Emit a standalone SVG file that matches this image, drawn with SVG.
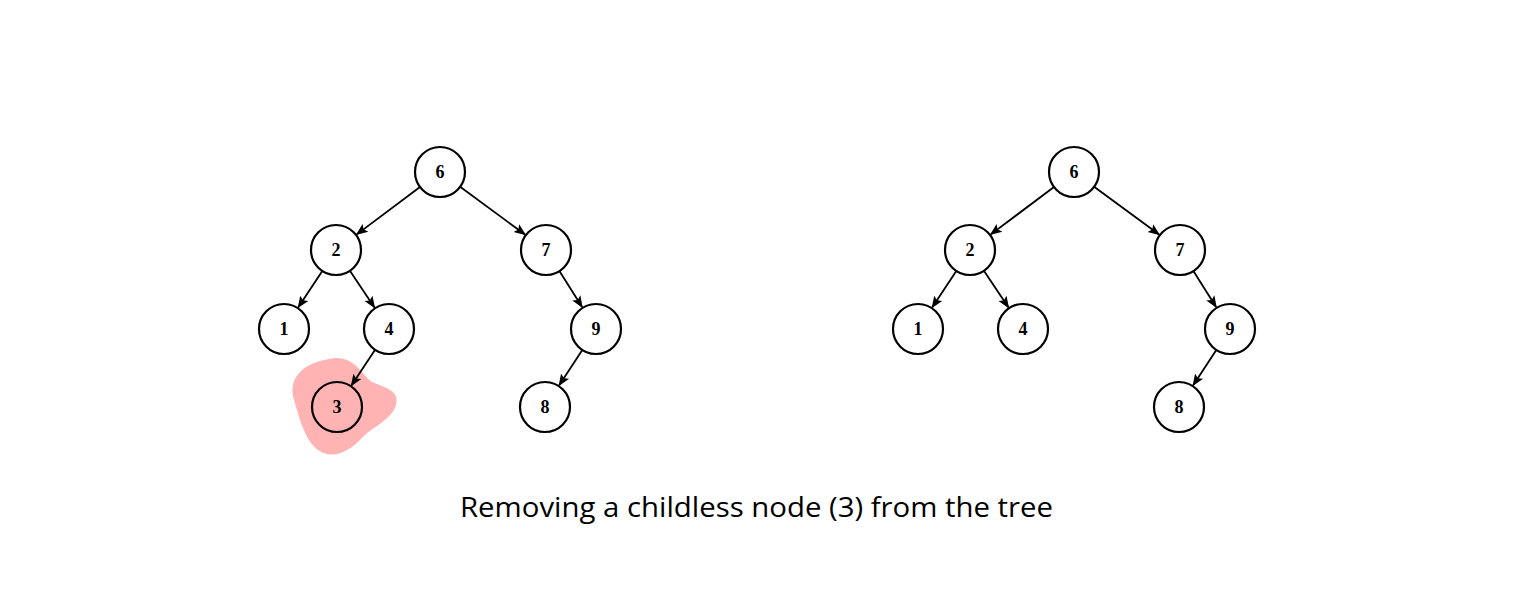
<svg xmlns="http://www.w3.org/2000/svg" width="1515" height="600" viewBox="0 0 1515 600">
<defs>
<marker id="ah" viewBox="0 0 10 10" refX="9" refY="5" markerWidth="12" markerHeight="12" markerUnits="userSpaceOnUse" orient="auto">
<path d="M0,1 L10,5 L0,9 L2,5 Z" fill="#000"/>
</marker>
<style>
.n circle{fill:#fff;stroke:#000;stroke-width:2.2}
.n text{font-family:"Liberation Serif",serif;font-weight:bold;font-size:18px;text-anchor:middle}
.e line{stroke:#000;stroke-width:1.8;marker-end:url(#ah)}
.cap{font-family:"Open Sans","Liberation Sans",sans-serif;font-size:27px;fill:#000}
</style>
</defs>
<rect width="1515" height="600" fill="#fff"/>
<path id="highlight" d="M335,358 C355,357 362,375 372,382 C385,388 400,390 396,405 C392,420 370,428 360,440 C348,452 332,460 318,450 C305,440 300,420 294,400 C288,380 300,362 335,358 Z" fill="#ffb3b3"/>
<g id="edges" class="e">
<line x1="420" y1="187" x2="356.8" y2="234.4"/>
<line x1="460.1" y1="186.8" x2="525.1" y2="234.6"/>
<line x1="322.3" y1="270.9" x2="298.3" y2="307.3"/>
<line x1="349.9" y1="270.8" x2="374.5" y2="307.4"/>
<line x1="375.1" y1="349.8" x2="351.4" y2="385.4"/>
<line x1="559.4" y1="271.1" x2="582.1" y2="307"/>
<line x1="582.3" y1="349.9" x2="559.2" y2="385.2"/>
<line x1="1054" y1="187" x2="990.8" y2="234.4"/>
<line x1="1094.1" y1="186.8" x2="1159.1" y2="234.6"/>
<line x1="956.3" y1="270.9" x2="932.3" y2="307.3"/>
<line x1="983.9" y1="270.8" x2="1008.5" y2="307.4"/>
<line x1="1193.4" y1="271.1" x2="1216.1" y2="307"/>
<line x1="1216.3" y1="349.9" x2="1193.2" y2="385.2"/>
</g>
<g id="L6" class="n"><circle cx="440" cy="172" r="25"/><text x="440" y="178">6</text></g>
<g id="L2" class="n"><circle cx="336" cy="250" r="25"/><text x="336" y="256">2</text></g>
<g id="L7" class="n"><circle cx="546" cy="250" r="25"/><text x="546" y="256">7</text></g>
<g id="L1" class="n"><circle cx="284" cy="329" r="25"/><text x="284" y="335">1</text></g>
<g id="L4" class="n"><circle cx="389" cy="329" r="25"/><text x="389" y="335">4</text></g>
<g id="L9" class="n"><circle cx="596" cy="329" r="25"/><text x="596" y="335">9</text></g>
<g id="L3" class="n"><circle cx="337" cy="407" r="25" style="fill:none"/><text x="337" y="413">3</text></g>
<g id="L8" class="n"><circle cx="545" cy="407" r="25"/><text x="545" y="413">8</text></g>
<g id="R6" class="n"><circle cx="1074" cy="172" r="25"/><text x="1074" y="178">6</text></g>
<g id="R2" class="n"><circle cx="970" cy="250" r="25"/><text x="970" y="256">2</text></g>
<g id="R7" class="n"><circle cx="1180" cy="250" r="25"/><text x="1180" y="256">7</text></g>
<g id="R1" class="n"><circle cx="918" cy="329" r="25"/><text x="918" y="335">1</text></g>
<g id="R4" class="n"><circle cx="1023" cy="329" r="25"/><text x="1023" y="335">4</text></g>
<g id="R9" class="n"><circle cx="1230" cy="329" r="25"/><text x="1230" y="335">9</text></g>
<g id="R8" class="n"><circle cx="1179" cy="407" r="25"/><text x="1179" y="413">8</text></g>
<text class="cap" x="460" y="517" textLength="593" lengthAdjust="spacingAndGlyphs">Removing a childless node (3) from the tree</text>
</svg>
